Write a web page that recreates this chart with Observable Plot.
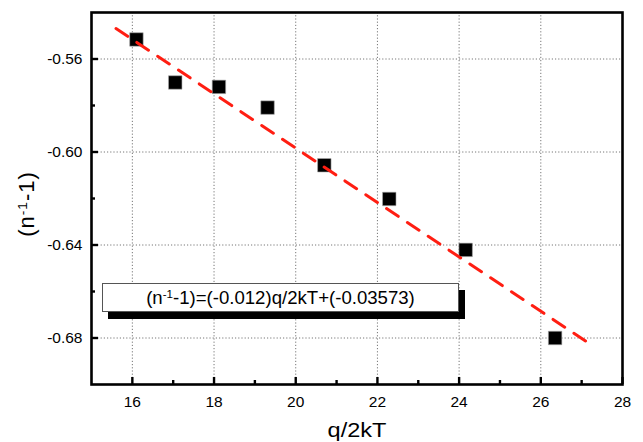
<!DOCTYPE html>
<html><head><meta charset="utf-8">
<script src="https://cdn.jsdelivr.net/npm/d3@7"></script>
<script src="https://cdn.jsdelivr.net/npm/@observablehq/plot@0.6"></script>
<style>
body{margin:0;background:#fff;}
#wrap{position:relative;width:643px;height:442px;font-family:"Liberation Sans",Arial,sans-serif;color:#000;}
#wrap svg{position:absolute;left:0;top:0;}
.ytitle{position:absolute;left:27px;top:204px;transform:translate(-50%,-50%) rotate(-90deg);font-size:22px;white-space:nowrap;letter-spacing:1px;}
.xtitle{position:absolute;left:357px;top:430px;transform:translate(-50%,-50%) scaleX(1.12);font-size:21px;white-space:nowrap;}
.legend{position:absolute;left:102px;top:283px;width:355px;height:27px;border:1px solid #555;background:#fff;box-shadow:6px 7px 0 #000;font-size:18.6px;line-height:28px;text-align:center;white-space:nowrap;}
sup{font-size:0.62em;vertical-align:0;position:relative;top:-0.55em;}
</style></head><body><div id="wrap"></div>
<script>
const qx = [16.10, 17.05, 18.12, 19.31, 20.70, 22.29, 24.16, 26.35];
const ny = [-0.5516, -0.5701, -0.5720, -0.5809, -0.6057, -0.6202, -0.6421, -0.6800];
const fitX = [15.6, 27.3];
const fitY = [-0.5469, -0.6837];
const xTicks = [16, 18, 20, 22, 24, 26, 28];
const xMinor = [17, 19, 21, 23, 25, 27];
const yTicks = [-0.56, -0.60, -0.64, -0.68];
const yMinor = [-0.58, -0.62, -0.66];
const xTitle = "q/2kT";
const yTitleHTML = "(n<sup>-1</sup>-1)";
const fitHTML = "(n<sup>-1</sup>-1)=(-0.012)q/2kT+(-0.03573)";

const points = qx.map((x, i) => ({x, y: ny[i]}));
const fit = fitX.map((x, i) => ({x, y: fitY[i]}));

const chart = Plot.plot({
  width: 643, height: 442,
  marginLeft: 91, marginRight: 21, marginTop: 12, marginBottom: 58,
  style: {fontFamily: "Liberation Sans, Arial, sans-serif", fontSize: "15.5px", background: "#fff", color: "#000"},
  x: {domain: [15, 28]},
  y: {domain: [-0.70, -0.54]},
  marks: [
    Plot.gridX(xTicks, {stroke: "#777", strokeOpacity: 1, strokeDasharray: "1.2,2", strokeWidth: 1}),
    Plot.gridY(yTicks, {stroke: "#777", strokeOpacity: 1, strokeDasharray: "1.2,2", strokeWidth: 1}),
    Plot.axisX(xTicks, {tickSize: -7, tickPadding: 18, strokeWidth: 2.4, tickFormat: d => String(d), label: null}),
    Plot.axisX(xMinor, {tickSize: -4, strokeWidth: 2.4, tickFormat: () => "", label: null}),
    Plot.axisY(yTicks, {tickSize: -7, tickPadding: 16, strokeWidth: 2.4, tickFormat: d => d.toFixed(2), label: null}),
    Plot.axisY(yMinor, {tickSize: -4, strokeWidth: 2.4, tickFormat: () => "", label: null}),
    Plot.dot(points, {x: "x", y: "y", symbol: "square", r: 7.6, fill: "#000", stroke: "#aaa", strokeWidth: 0.6}),
    Plot.line(fit, {x: "x", y: "y", stroke: "#ff1e12", strokeWidth: 3, strokeDasharray: "14,11"}),
    Plot.frame({stroke: "#000", strokeWidth: 2.6})
  ]
});

const wrap = document.getElementById("wrap");
wrap.appendChild(chart);
const yt = document.createElement("div"); yt.className = "ytitle"; yt.innerHTML = yTitleHTML; wrap.appendChild(yt);
const xt = document.createElement("div"); xt.className = "xtitle"; xt.textContent = xTitle; wrap.appendChild(xt);
const lg = document.createElement("div"); lg.className = "legend"; lg.innerHTML = fitHTML; wrap.appendChild(lg);
</script></body></html>
